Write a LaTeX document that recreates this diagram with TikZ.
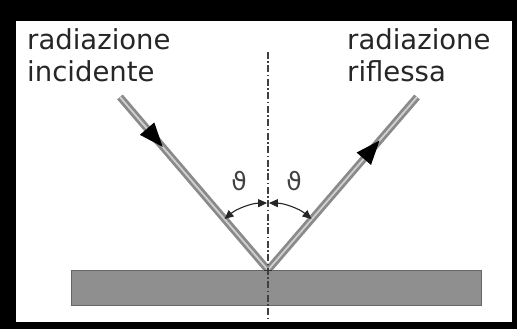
\documentclass[tikz,border=0pt]{standalone}
\usepackage{fontspec}
\setsansfont{DejaVu Sans}
\usetikzlibrary{arrows.meta,decorations.markings,calc}
\definecolor{beamout}{HTML}{8A8A8A}
\definecolor{beamin}{HTML}{D0D0D0}
\definecolor{surf}{HTML}{8F8F8F}
\tikzset{
  label text/.style={font=\sffamily\fontsize{27.5}{32}\selectfont, text=black!85, inner sep=0pt, anchor=base west},
  beam/.style={draw=beamout, double=beamin, double distance=1.8pt, line width=2.8pt},
  beamarrow/.style={decoration={markings, mark=at position #1 with {\fill[black] (-13pt,-9.5pt) -- (11pt,0) -- (-13pt,9.5pt) -- cycle;}}, decorate},
  anglearc/.style={draw=black!85, line width=1.1pt, {Triangle[length=9pt,width=8pt]}-{Triangle[length=9pt,width=8pt]}},
  axisline/.style={draw=black!75, line width=1.2pt, dash pattern=on 7pt off 2.5pt on 1.5pt off 2.5pt},
  thetalabel/.style={font=\sffamily\fontsize{25}{28}\selectfont, text=black!75, inner sep=0pt}
}
\begin{document}
\begin{tikzpicture}[x=1pt,y=1pt]
\useasboundingbox (0,0) rectangle (517,329);
\fill[black] (0,0) rectangle (517,329);
\fill[white] (16,7) rectangle (512,308);
% surface
\draw[fill=surf, draw=black!60, line width=1pt] (71,23) rectangle (481,58);
% points
\coordinate (P) at (268,59);
\coordinate (A) at (120,232);
\coordinate (B) at (417,232);
\coordinate (T) at (268,277);
\coordinate (U) at (268,7);
% beams
\draw[beam] (A) -- (P) -- (B);
\path[beamarrow=0.24] (A) -- (P);
\path[beamarrow=0.70] (P) -- (B);
% normal
\draw[axisline] (T) -- (U);
% small mark at P
\draw[black!80, line width=0.8pt] ($(P)+(-4,0)$) -- ($(P)+(4,0)$);
% angle arcs
\draw[anglearc] ($(P)+(130.5:67)$) arc[start angle=130.5, end angle=90.8, radius=67];
\draw[anglearc] ($(P)+(49.5:67)$) arc[start angle=49.5, end angle=89.2, radius=67];
% theta labels
\node[thetalabel] (t1) at (239,148) {ϑ};
\node[thetalabel] (t2) at (294,148) {ϑ};
% texts
\node[label text] (l1) at (27,279) {radiazione};
\node[label text] (l2) at (27,247) {incidente};
\node[label text] (r1) at (347,279) {radiazione};
\node[label text] (r2) at (347,247) {riflessa};
\end{tikzpicture}
\end{document}
